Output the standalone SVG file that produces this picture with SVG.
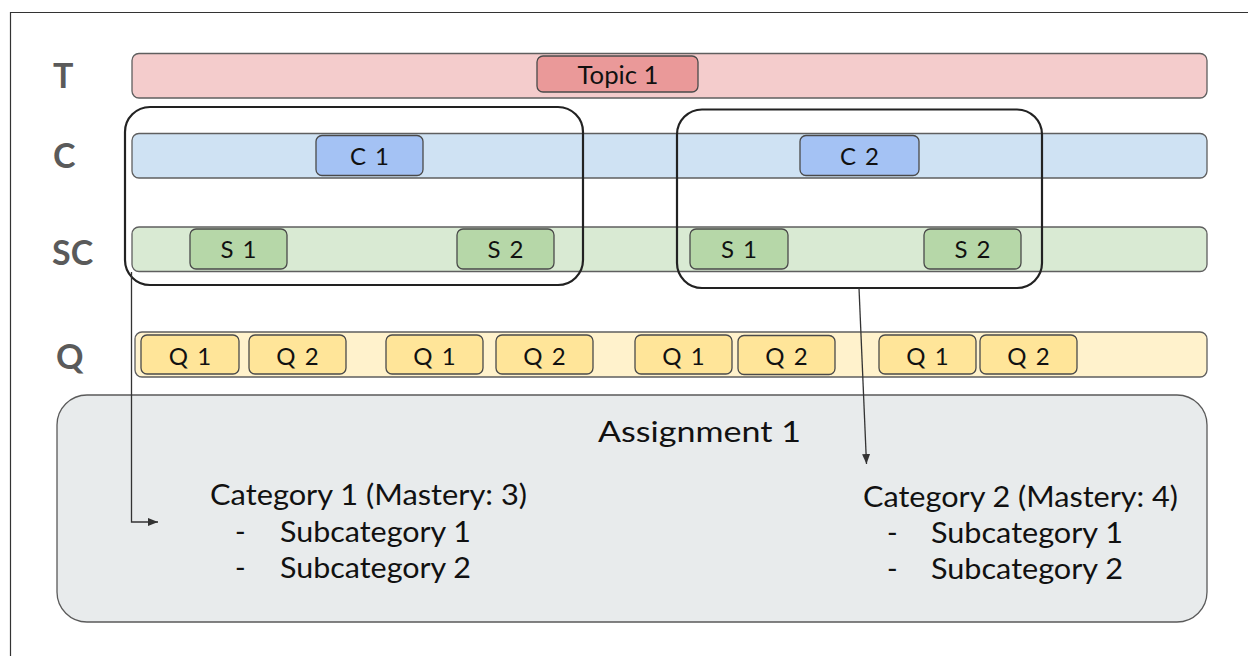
<svg xmlns="http://www.w3.org/2000/svg" width="1248" height="656" viewBox="0 0 1248 656">
  <style>
    .bar { stroke: #5f5f5f; stroke-width: 1.3; }
    .box { stroke: #4a4a4a; stroke-width: 1.3; }
    .row { font-family: Lato, "Liberation Sans", sans-serif; font-weight: bold; font-size: 34px; fill: #5a5a5a; }
    .lbl { font-family: Lato, "Liberation Sans", sans-serif; font-size: 24px; fill: #111; text-anchor: middle; word-spacing: 3px; }
    .title { font-family: Lato, "Liberation Sans", sans-serif; font-size: 25px; fill: #111; text-anchor: middle; }
    .txt { font-family: Lato, "Liberation Sans", sans-serif; font-size: 28.5px; fill: #111; }
    .grp { fill: none; stroke: #222; stroke-width: 2.2; }
    .conn { fill: none; stroke: #333; stroke-width: 1.3; }
  </style>
  <defs>
    <marker id="arrow" viewBox="0 0 10 10" refX="10" refY="5" markerWidth="10" markerHeight="10" markerUnits="userSpaceOnUse" orient="auto">
      <path d="M0,1 L10,5 L0,9 Z" fill="#333"/>
    </marker>
  </defs>

  <rect width="1248" height="656" fill="#fff"/>
  <!-- frame -->
  <path d="M10.5,656 V12.5 H1248" fill="none" stroke="#333" stroke-width="1.2"/>

  <!-- row labels -->
  <g id="row-labels">
    <text class="row" x="53" y="88">T</text>
    <text class="row" x="53" y="168">C</text>
    <text class="row" x="52" y="265">SC</text>
    <text class="row" x="56" y="369">Q</text>
  </g>

  <!-- topic row -->
  <g id="topic-row">
    <rect class="bar" x="132" y="53.5" width="1075" height="44.5" rx="7" fill="#f4cccc"/>
  </g>
  <g id="topic-1">
    <rect class="box" x="537" y="56" width="161" height="36" rx="6" fill="#ea9999"/>
    <text class="title" x="618" y="83.5" textLength="81" lengthAdjust="spacingAndGlyphs">Topic 1</text>
  </g>

  <!-- category row -->
  <g id="category-row">
    <rect class="bar" x="132" y="133.5" width="1075" height="44.5" rx="7" fill="#cfe2f3"/>
  </g>
  <g id="c1">
    <rect class="box" x="316" y="135.5" width="107" height="40" rx="6" fill="#a4c2f4"/>
    <text class="lbl" x="369.5" y="164.5">C 1</text>
  </g>
  <g id="c2">
    <rect class="box" x="800" y="135.5" width="119" height="40" rx="6" fill="#a4c2f4"/>
    <text class="lbl" x="859.5" y="164.5">C 2</text>
  </g>

  <!-- subcategory row -->
  <g id="subcategory-row">
    <rect class="bar" x="132" y="227" width="1075" height="44.5" rx="7" fill="#d9ead3"/>
  </g>
  <g id="s1-a">
    <rect class="box" x="190" y="229" width="97" height="40" rx="6" fill="#b6d7a8"/>
    <text class="lbl" x="238.5" y="258">S 1</text>
  </g>
  <g id="s2-a">
    <rect class="box" x="457" y="229" width="97" height="40" rx="6" fill="#b6d7a8"/>
    <text class="lbl" x="505.5" y="258">S 2</text>
  </g>
  <g id="s1-b">
    <rect class="box" x="690" y="229" width="98" height="40" rx="6" fill="#b6d7a8"/>
    <text class="lbl" x="739" y="258">S 1</text>
  </g>
  <g id="s2-b">
    <rect class="box" x="924" y="229" width="97" height="40" rx="6" fill="#b6d7a8"/>
    <text class="lbl" x="972.5" y="258">S 2</text>
  </g>

  <!-- question row -->
  <g id="question-row">
    <rect class="bar" x="135" y="332" width="1072" height="45" rx="7" fill="#fff2cc"/>
  </g>
  <g id="q1-a"><rect class="box" x="141" y="335" width="98" height="39" rx="6" fill="#ffe599"/><text class="lbl" x="190" y="364.5">Q 1</text></g>
  <g id="q2-a"><rect class="box" x="249" y="335" width="97" height="39" rx="6" fill="#ffe599"/><text class="lbl" x="297.5" y="364.5">Q 2</text></g>
  <g id="q1-b"><rect class="box" x="386" y="335" width="97" height="39" rx="6" fill="#ffe599"/><text class="lbl" x="434.5" y="364.5">Q 1</text></g>
  <g id="q2-b"><rect class="box" x="496" y="335" width="97" height="39" rx="6" fill="#ffe599"/><text class="lbl" x="544.5" y="364.5">Q 2</text></g>
  <g id="q1-c"><rect class="box" x="635" y="335" width="97" height="39" rx="6" fill="#ffe599"/><text class="lbl" x="683.5" y="364.5">Q 1</text></g>
  <g id="q2-c"><rect class="box" x="738" y="335.5" width="97" height="39" rx="6" fill="#ffe599"/><text class="lbl" x="786.5" y="365">Q 2</text></g>
  <g id="q1-d"><rect class="box" x="879" y="335" width="97" height="39" rx="6" fill="#ffe599"/><text class="lbl" x="927.5" y="364.5">Q 1</text></g>
  <g id="q2-d"><rect class="box" x="980" y="335" width="97" height="39" rx="6" fill="#ffe599"/><text class="lbl" x="1028.5" y="364.5">Q 2</text></g>

  <!-- category groupings -->
  <g id="group-1">
    <rect class="grp" x="125" y="107" width="458" height="178" rx="25"/>
  </g>
  <g id="group-2">
    <rect class="grp" x="677" y="109.5" width="365" height="178.5" rx="25"/>
  </g>

  <!-- assignment -->
  <g id="assignment-1">
    <rect x="57" y="395" width="1150" height="227" rx="30" fill="#e8ebec" stroke="#5a5a5a" stroke-width="1.3"/>
    <text class="txt" x="598" y="442" font-size="35" textLength="203" lengthAdjust="spacingAndGlyphs">Assignment 1</text>
    <text class="txt" x="210" y="505" textLength="317" lengthAdjust="spacingAndGlyphs">Category 1 (Mastery: 3)</text>
    <text class="txt" x="235" y="542">-</text>
    <text class="txt" x="280" y="542" textLength="191" lengthAdjust="spacingAndGlyphs">Subcategory 1</text>
    <text class="txt" x="235" y="578">-</text>
    <text class="txt" x="280" y="578" textLength="191" lengthAdjust="spacingAndGlyphs">Subcategory 2</text>
    <text class="txt" x="863" y="507" textLength="315" lengthAdjust="spacingAndGlyphs">Category 2 (Mastery: 4)</text>
    <text class="txt" x="887" y="543">-</text>
    <text class="txt" x="931" y="543" textLength="192" lengthAdjust="spacingAndGlyphs">Subcategory 1</text>
    <text class="txt" x="887" y="579">-</text>
    <text class="txt" x="931" y="579" textLength="192" lengthAdjust="spacingAndGlyphs">Subcategory 2</text>
  </g>

  <!-- connectors -->
  <g id="connectors">
    <path class="conn" d="M131.5,272 V522 H158" marker-end="url(#arrow)"/>
    <path class="conn" d="M859,288 L866.5,464" marker-end="url(#arrow)"/>
  </g>
</svg>
